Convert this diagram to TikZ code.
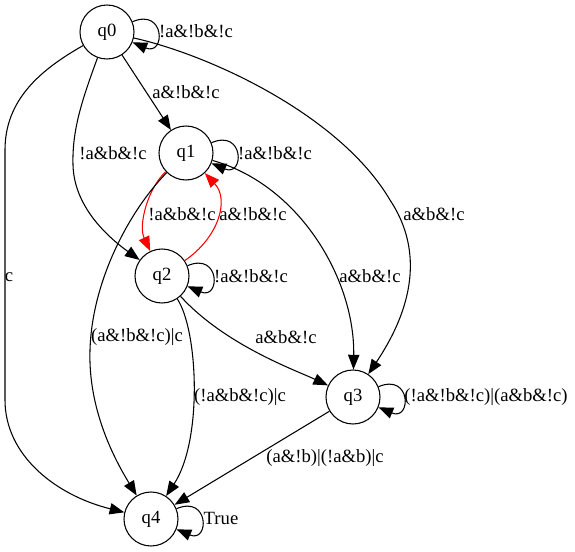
\documentclass[tikz,border=0pt]{standalone}
\usepackage{fontspec}
\setmainfont{Liberation Serif}
\usetikzlibrary{arrows.meta}
\begin{document}
\begin{tikzpicture}[x=0.75pt,y=-0.75pt,
  state/.style={draw, circle, line width=0.8pt, minimum size=40.5pt, inner sep=0pt, font=\fontsize{14}{16}\selectfont},
  lbl/.style={inner sep=0pt, font=\fontsize{14}{16}\selectfont},
  edge/.style={draw, line width=0.8pt, -{Triangle[length=11pt,width=8.5pt]}},
  redge/.style={edge, red},
  selfloop/.style={edge}
]
\useasboundingbox (0,0) rectangle (575,551);

\node[state] (q0) at (107,32) {q0};
\node[state] (q1) at (186,153) {q1};
\node[state] (q2) at (162,276) {q2};
\node[state] (q3) at (353,397) {q3};
\node[state] (q4) at (151,519) {q4};

% self loops
\draw[selfloop] (q0.22) .. controls +(33,-14) and +(33,14) .. (q0.-22);
\draw[selfloop] (q1.22) .. controls +(33,-14) and +(33,14) .. (q1.-22);
\draw[selfloop] (q2.22) .. controls +(33,-14) and +(33,14) .. (q2.-22);
\draw[selfloop] (q3.22) .. controls +(33,-14) and +(33,14) .. (q3.-22);
\draw[selfloop] (q4.22) .. controls +(33,-14) and +(33,14) .. (q4.-22);

% edges
\draw[edge] (q0) -- (q1);
\draw[edge] (q0) .. controls (82,100) and (72,130) .. (73,165) .. controls (74,205) and (105,235) .. (q2);
\draw[edge] (q0) .. controls (40,70) and (5,100) .. (5,150) -- (5,400) .. controls (5,455) and (55,495) .. (q4);
\draw[edge] (q0) .. controls (210,55) and (340,115) .. (390,200) .. controls (420,245) and (418,300) .. (q3);
\draw[edge] (q1) .. controls (300,185) and (355,280) .. (q3);
\draw[redge] (q1) .. controls (148,188) and (138,225) .. (q2);
\draw[redge] (q2) .. controls (218,238) and (230,200) .. (q1);
\draw[edge] (q1) .. controls (130,210) and (92,280) .. (90,350) .. controls (88,410) and (115,460) .. (q4);
\draw[edge] (q2) .. controls (225,345) and (295,370) .. (q3);
\draw[edge] (q2) .. controls (198,330) and (203,440) .. (q4);
\draw[edge] (q3) -- (q4);

% labels
\node[lbl] (l00) at (196,31) {!a\&!b\&!c};
\node[lbl] (l01) at (186,92) {a\&!b\&!c};
\node[lbl] (l02) at (113,153) {!a\&b\&!c};
\node[lbl] (l04) at (9,277) {c};
\node[lbl] (l03) at (434,214) {a\&b\&!c};
\node[lbl] (l11) at (275,153) {!a\&!b\&!c};
\node[lbl] (l13) at (370,276) {a\&b\&!c};
\node[lbl] (l12) at (182,214) {!a\&b\&!c};
\node[lbl] (l21) at (253,214) {a\&!b\&!c};
\node[lbl] (l14) at (137,337) {(a\&!b\&!c)|c};
\node[lbl] (l22) at (251,276) {!a\&!b\&!c};
\node[lbl] (l23) at (286,337) {a\&b\&!c};
\node[lbl] (l24) at (240,397) {(!a\&b\&!c)|c};
\node[lbl] (l33) at (486,397) {(!a\&!b\&!c)|(a\&b\&!c)};
\node[lbl] (l34) at (325,458) {(a\&!b)|(!a\&b)|c};
\node[lbl] (l44) at (221,518) {True};
\end{tikzpicture}
\end{document}
